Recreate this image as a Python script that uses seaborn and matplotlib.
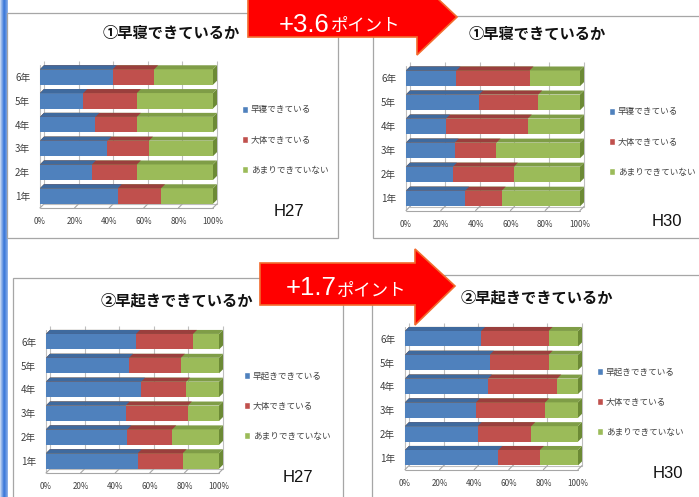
import numpy as np
import pandas as pd
import matplotlib
matplotlib.use("Agg")
import matplotlib.pyplot as plt
import seaborn as sns
from matplotlib.patches import Polygon, Rectangle, Patch
from matplotlib.transforms import ScaledTranslation

# ---------------- data ----------------
grades = ['6年', '5年', '4年', '3年', '2年', '1年']
xticks = [0, 20, 40, 60, 80, 100]
xtick_labels = ['0%', '20%', '40%', '60%', '80%', '100%']

sleep_labels = ['早寝できている', '大体できている', 'あまりできていない']
wake_labels = ['早起きできている', '大体できている', 'あまりできていない']

# ① 早寝 H27
sleep_h27_yes = [42, 25, 32, 39, 30, 45]
sleep_h27_mostly = [24, 31, 24, 24, 26, 25]
sleep_h27_no = [34, 44, 44, 37, 44, 30]
# ① 早寝 H30
sleep_h30_yes = [29, 42, 23, 28, 27, 34]
sleep_h30_mostly = [42, 34, 47, 24, 35, 21]
sleep_h30_no = [29, 24, 30, 48, 38, 45]
# ② 早起き H27
wake_h27_yes = [52, 48, 55, 46, 47, 53]
wake_h27_mostly = [33, 30, 26, 36, 26, 26]
wake_h27_no = [15, 22, 19, 18, 27, 21]
# ② 早起き H30
wake_h30_yes = [44, 49, 48, 41, 42, 54]
wake_h30_mostly = [39, 34, 40, 40, 31, 24]
wake_h30_no = [17, 17, 12, 19, 27, 22]

titles = ['①早寝できているか', '①早寝できているか', '②早起きできているか', '②早起きできているか']
tags = ['H27', 'H30', 'H27', 'H30']
arrow_values = ['+3.6', '+1.7']
arrow_unit = 'ポイント'

# ---------------- style ----------------
sns.set_theme(style='white')
plt.rcParams['font.family'] = ['Noto Sans CJK JP', 'DejaVu Sans']

W, H = 699, 497
BLUE, RED, GREEN = '#4F81BD', '#C0504D', '#9BBB59'
BLUE_T, RED_T, GREEN_T = '#3F6A9E', '#9A3F3D', '#7F9D47'
GREEN_S = '#6C8A35'
DX, DY = 4, 4  # 3-D depth in pixels

fig = plt.figure(figsize=(W / 100, H / 100), dpi=100)
fig.patch.set_facecolor('white')

ax_bg = fig.add_axes([0, 0, 1, 1], zorder=0)
ax_bg.set_xlim(0, W)
ax_bg.set_ylim(H, 0)
ax_bg.axis('off')

# left blue strip
grad = np.array([[0.15, 0.55, 0.9, 1.0, 0.8, 0.5]])
ax_bg.imshow(grad, extent=(0, 7.5, H, 0), aspect='auto',
             cmap=matplotlib.colors.LinearSegmentedColormap.from_list('s', ['#D6E3F6', '#3F7BDA']),
             vmin=0, vmax=1, zorder=0)

panels = [
    dict(yes=sleep_h27_yes, mostly=sleep_h27_mostly, no=sleep_h27_no, labels=sleep_labels,
         x0=40, x1=213, yt=77, yb=196, title=(171, 33), leg=(242, 140), tag=(289, 211),
         frame=(7, 13, 338, 238)),
    dict(yes=sleep_h30_yes, mostly=sleep_h30_mostly, no=sleep_h30_no, labels=sleep_labels,
         x0=406, x1=580, yt=78.3, yb=198.5, title=(537, 34), leg=(609, 142), tag=(667, 222),
         frame=(373, 16, 712, 238)),
    dict(yes=wake_h27_yes, mostly=wake_h27_mostly, no=wake_h27_no, labels=wake_labels,
         x0=46, x1=219, yt=341.7, yb=461, title=(177, 300), leg=(244, 406), tag=(298, 477),
         frame=(13, 278, 343, 512)),
    dict(yes=wake_h30_yes, mostly=wake_h30_mostly, no=wake_h30_no, labels=wake_labels,
         x0=405, x1=578, yt=338.7, yb=457.7, title=(537, 297), leg=(597, 402), tag=(668, 473),
         frame=(372, 275, 712, 512)),
]

for i, p in enumerate(panels):
    fx0, fy0, fx1, fy1 = p['frame']
    ax_bg.add_patch(Rectangle((fx0, fy0), fx1 - fx0, fy1 - fy0, facecolor='white',
                              edgecolor='#A6A6A6', lw=0.9, zorder=1))
    ax_bg.text(p['title'][0], p['title'][1], titles[i], ha='center', va='center',
               fontsize=11, fontweight='bold', color='#111111', zorder=2)
    ax_bg.text(p['tag'][0], p['tag'][1], tags[i], ha='center', va='center',
               fontsize=12, family='Liberation Sans', color='#111111', zorder=2)

    s = (p['yb'] - p['yt']) / 5.0
    top = p['yt'] - s / 2
    bot = p['yb'] + s / 2
    ax = fig.add_axes([p['x0'] / W, 1 - bot / H, (p['x1'] - p['x0']) / W, (bot - top) / H], zorder=2)
    ax.patch.set_alpha(0)

    yes = np.array(p['yes'], float)
    mostly = np.array(p['mostly'], float)
    no = np.array(p['no'], float)
    lab = p['labels']
    df = pd.DataFrame({
        'grade': grades * 3,
        'cat': [lab[2]] * 6 + [lab[1]] * 6 + [lab[0]] * 6,
        'cum': list(yes + mostly + no) + list(yes + mostly) + list(yes),
    })
    sns.barplot(data=df, y='grade', x='cum', hue='cat', order=grades,
                hue_order=[lab[2], lab[1], lab[0]], dodge=False, width=0.65,
                palette=[GREEN, RED, BLUE], errorbar=None, legend=False,
                linewidth=0, saturation=1, ax=ax, zorder=2)
    ax.set_xlim(0, 100)
    ax.set_ylim(5.5, -0.5)
    ax.set_xlabel('')
    ax.set_ylabel('')
    for sp in ax.spines.values():
        sp.set_visible(False)

    ddx = DX * 100.0 / (p['x1'] - p['x0'])
    ddy = DY / s
    off = ax.transData + ScaledTranslation(DX / 100, DY / 100, fig.dpi_scale_trans)

    # back wall grid lines and floor
    ax.vlines(xticks, -0.5, 5.5, transform=off, colors='#BFBFBF', lw=0.8, zorder=0.5, clip_on=False)
    ax.plot([0, 100], [5.5, 5.5], transform=off, color='#BFBFBF', lw=0.8, zorder=0.5, clip_on=False)
    ax.plot([0, 100], [5.5, 5.5], color='#A6A6A6', lw=0.8, zorder=0.6, clip_on=False)
    ax.plot([0, 0], [5.5, -0.5], color='#BFBFBF', lw=0.8, zorder=0.6, clip_on=False)
    for t in xticks:
        ax.plot([t, t + ddx], [5.5, 5.5 - ddy], color='#A6A6A6', lw=0.8, zorder=0.6, clip_on=False)

    # 3-D faces of the bars
    tops = [GREEN_T, RED_T, BLUE_T]
    for k, cont in enumerate(ax.containers):
        for bar in cont:
            bx, by = bar.get_x(), bar.get_y()
            bw, bh = bar.get_width(), bar.get_height()
            ax.add_patch(Polygon([(bx, by), (bx + bw, by), (bx + bw + ddx, by - ddy), (bx + ddx, by - ddy)],
                                 closed=True, facecolor=tops[k], edgecolor='none',
                                 zorder=2.1 + 0.1 * k, clip_on=False))
            if k == 0:
                ax.add_patch(Polygon([(bx + bw, by), (bx + bw + ddx, by - ddy),
                                      (bx + bw + ddx, by + bh - ddy), (bx + bw, by + bh)],
                                     closed=True, facecolor=GREEN_S, edgecolor='none',
                                     zorder=2.05, clip_on=False))

    ax.set_xticks(xticks)
    ax.set_xticklabels(xtick_labels)
    ax.tick_params(axis='x', length=0, pad=6.5, labelsize=5.8, labelcolor='#404040')
    ax.tick_params(axis='y', length=0, pad=7, labelsize=7, labelcolor='#404040')

    handles = [Patch(facecolor=BLUE), Patch(facecolor=RED), Patch(facecolor=GREEN)]
    ax.legend(handles, lab, loc='center left',
              bbox_to_anchor=(p['leg'][0] / W, 1 - p['leg'][1] / H), bbox_transform=fig.transFigure,
              frameon=False, fontsize=6.2, handlelength=0.75, handleheight=0.75, handletextpad=0.3,
              labelspacing=2.45, borderpad=0, borderaxespad=0, labelcolor='#404040')

# ---------------- arrows ----------------
ax_top = fig.add_axes([0, 0, 1, 1], zorder=5)
ax_top.set_xlim(0, W)
ax_top.set_ylim(H, 0)
ax_top.axis('off')
ax_top.patch.set_alpha(0)

arrow_shapes = [
    [(248, -3), (417, -3), (417, -21), (457, 17), (417, 55), (417, 37), (248, 37)],
    [(260, 263), (415, 263), (415, 249), (455, 286), (415, 325), (415, 305), (260, 305)],
]
text_pos = [((279, 32), (331, 31)), ((286, 295), (337, 296))]
for shape, (p1, p2), val in zip(arrow_shapes, text_pos, arrow_values):
    ax_top.add_patch(Polygon(shape, closed=True, facecolor='#FF0000', edgecolor='#F26B2E', lw=1.2))
    ax_top.text(p1[0], p1[1], val, color='white', fontsize=18.5, family='Liberation Sans',
                ha='left', va='baseline')
    ax_top.text(p2[0], p2[1], arrow_unit, color='white', fontsize=12.5,
                family=['Noto Sans CJK JP', 'DejaVu Sans'], ha='left', va='baseline')

fig.savefig('out.png', dpi=100)
